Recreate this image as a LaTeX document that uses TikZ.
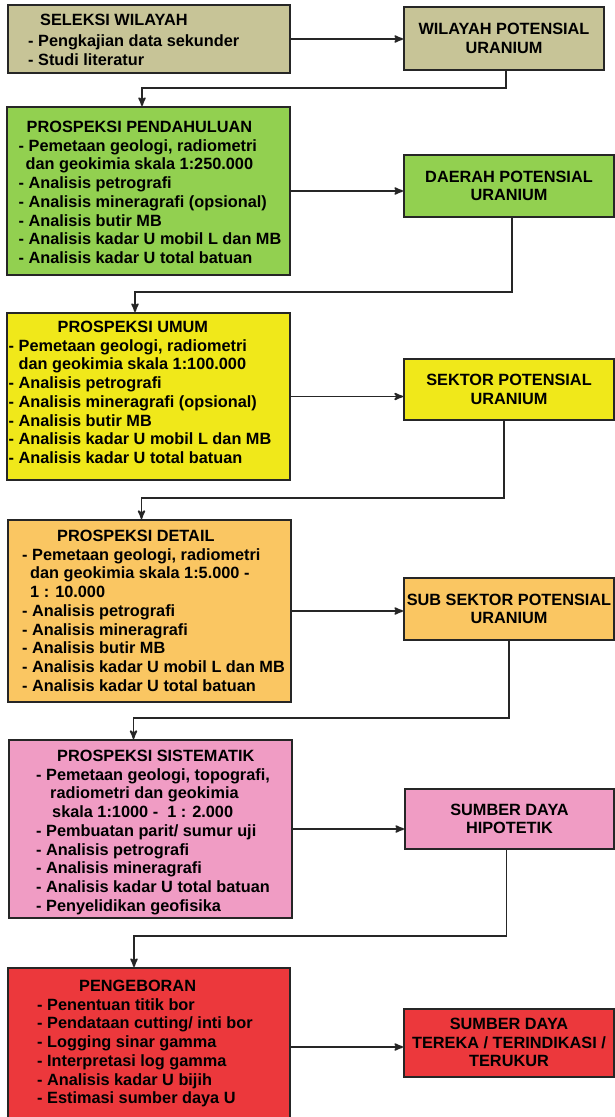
\documentclass[tikz,border=0pt]{standalone}
\usepackage{fontspec}
\setmainfont{Liberation Sans}
\usetikzlibrary{arrows}
\usetikzlibrary{positioning}
\definecolor{tahapA}{RGB}{199,196,151}
\definecolor{tahapB}{RGB}{146,208,80}
\definecolor{tahapC}{RGB}{240,232,26}
\definecolor{tahapD}{RGB}{250,198,98}
\definecolor{tahapE}{RGB}{240,156,196}
\definecolor{tahapF}{RGB}{236,56,60}

\begin{document}
\begin{tikzpicture}[x=1pt, y=-1pt, font=\bfseries\fontsize{16.3}{18.7}\selectfont,
 kotak/.style={draw=black!85, line width=2pt, inner sep=0pt},
 isi/.style={align=left, inner sep=0pt, anchor=north west},
 hasil/.style={kotak, align=center},
 panah/.style={black!85, line width=1.9pt, ->, >=stealth'}]
\clip (0,0) rectangle (615,1117);
\node[kotak, fill=tahapA, minimum width=282pt, minimum height=68pt] (seleksi) at (149,39) {};
\node[isi] (seleksi-t) at ([xshift=21pt,yshift=-9.5pt]seleksi.north west) {\hspace*{12pt}SELEKSI WILAYAH\\[3pt]- Pengkajian data sekunder\\[0.5pt]- Studi literatur};
\node[hasil, fill=tahapA, minimum width=200pt, minimum height=63pt] (wilayah) at (504,38.5) {WILAYAH POTENSIAL\\URANIUM};

\node[kotak, fill=tahapB, minimum width=283pt, minimum height=168pt] (pendahuluan) at (148,191) {};
\node[isi] (pendahuluan-t) at ([xshift=13pt,yshift=-15pt]pendahuluan.north west) {\hspace*{8pt}PROSPEKSI PENDAHULUAN\\- Pemetaan geologi, radiometri\\\hspace*{7pt}dan geokimia skala 1:250.000\\- Analisis petrografi\\- Analisis mineragrafi (opsional)\\- Analisis butir MB\\- Analisis kadar U mobil L dan MB\\- Analisis kadar U total batuan};
\node[hasil, fill=tahapB, minimum width=210pt, minimum height=62pt] (daerah) at (509,186) {DAERAH POTENSIAL\\URANIUM};

\node[kotak, fill=tahapC, minimum width=283pt, minimum height=167pt] (umum) at (148,396.5) {};
\node[isi] (umum-t) at ([xshift=3pt,yshift=-9pt]umum.north west) {\hspace*{49pt}PROSPEKSI UMUM\\- Pemetaan geologi, radiometri\\\hspace*{10pt}dan geokimia skala 1:100.000\\- Analisis petrografi\\- Analisis mineragrafi (opsional)\\- Analisis butir MB\\- Analisis kadar U mobil L dan MB\\- Analisis kadar U total batuan};
\node[hasil, fill=tahapC, minimum width=210pt, minimum height=61pt] (sektor) at (509,389.5) {SEKTOR POTENSIAL\\URANIUM};

\node[kotak, fill=tahapD, minimum width=283pt, minimum height=182pt] (detail) at (149.5,611) {};
\node[isi] (detail-t) at ([xshift=15pt,yshift=-11pt]detail.north west) {\hspace*{35pt}PROSPEKSI DETAIL\\- Pemetaan geologi, radiometri\\\hspace*{8pt}dan geokimia skala 1:5.000 -\\\hspace*{8pt}1 : 10.000\\- Analisis petrografi\\- Analisis mineragrafi\\- Analisis butir MB\\- Analisis kadar U mobil L dan MB\\- Analisis kadar U total batuan};
\node[hasil, fill=tahapD, minimum width=210pt, minimum height=62pt] (subsektor) at (509,609) {SUB SEKTOR POTENSIAL\\URANIUM};

\node[kotak, fill=tahapE, minimum width=283pt, minimum height=178pt] (sistematik) at (150.5,829) {};
\node[isi] (sistematik-t) at ([xshift=28pt,yshift=-11pt]sistematik.north west) {\hspace*{21pt}PROSPEKSI SISTEMATIK\\- Pemetaan geologi, topografi,\\\hspace*{14pt}radiometri dan geokimia\\\hspace*{16pt}skala 1:1000 -\ \ 1 : 2.000\\- Pembuatan parit/ sumur uji\\- Analisis petrografi\\- Analisis mineragrafi\\- Analisis kadar U total batuan\\- Penyelidikan geofisika};
\node[hasil, fill=tahapE, minimum width=209pt, minimum height=60pt] (hipotetik) at (509.5,819) {SUMBER DAYA\\HIPOTETIK};

\node[kotak, fill=tahapF, minimum width=282pt, minimum height=158pt] (pengeboran) at (149,1047) {};
\node[isi] (pengeboran-t) at ([xshift=30pt,yshift=-13pt]pengeboran.north west) {\hspace*{42pt}PENGEBORAN\\- Penentuan titik bor\\- Pendataan cutting/ inti bor\\- Logging sinar gamma\\- Interpretasi log gamma\\- Analisis kadar U bijih\\- Estimasi sumber daya U};
\node[hasil, fill=tahapF, minimum width=210pt, minimum height=68pt] (tereka) at (509,1042.5) {SUMBER DAYA\\TEREKA / TERINDIKASI /\\TERUKUR};

\draw[panah] (seleksi.east) -- (seleksi.east -| wilayah.west);
\draw[panah] (pendahuluan.east) -- (pendahuluan.east -| daerah.west);
\draw[panah] (umum.east) -- (umum.east -| sektor.west);
\draw[panah] (detail.east) -- (detail.east -| subsektor.west);
\draw[panah] (sistematik.east) -- (sistematik.east -| hipotetik.west);
\draw[panah] (pengeboran.east) -- (pengeboran.east -| tereka.west);

\draw[panah] ([xshift=2pt]wilayah.south) -- ++(0,17) -| ([xshift=-6pt]pendahuluan.north);
\draw[panah] ([xshift=3pt]daerah.south) -- ++(0,74) -| ([xshift=-13pt]umum.north);
\draw[panah] ([xshift=-5pt]sektor.south) -- ++(0,77) -| ([xshift=-8pt]detail.north);
\draw[panah] ([xshift=0pt]subsektor.south) -- ++(0,77) -| ([xshift=-17pt]sistematik.north);
\draw[panah] ([xshift=-3pt]hipotetik.south) -- ++(0,86) -| ([xshift=-15pt]pengeboran.north);
\end{tikzpicture}
\end{document}
